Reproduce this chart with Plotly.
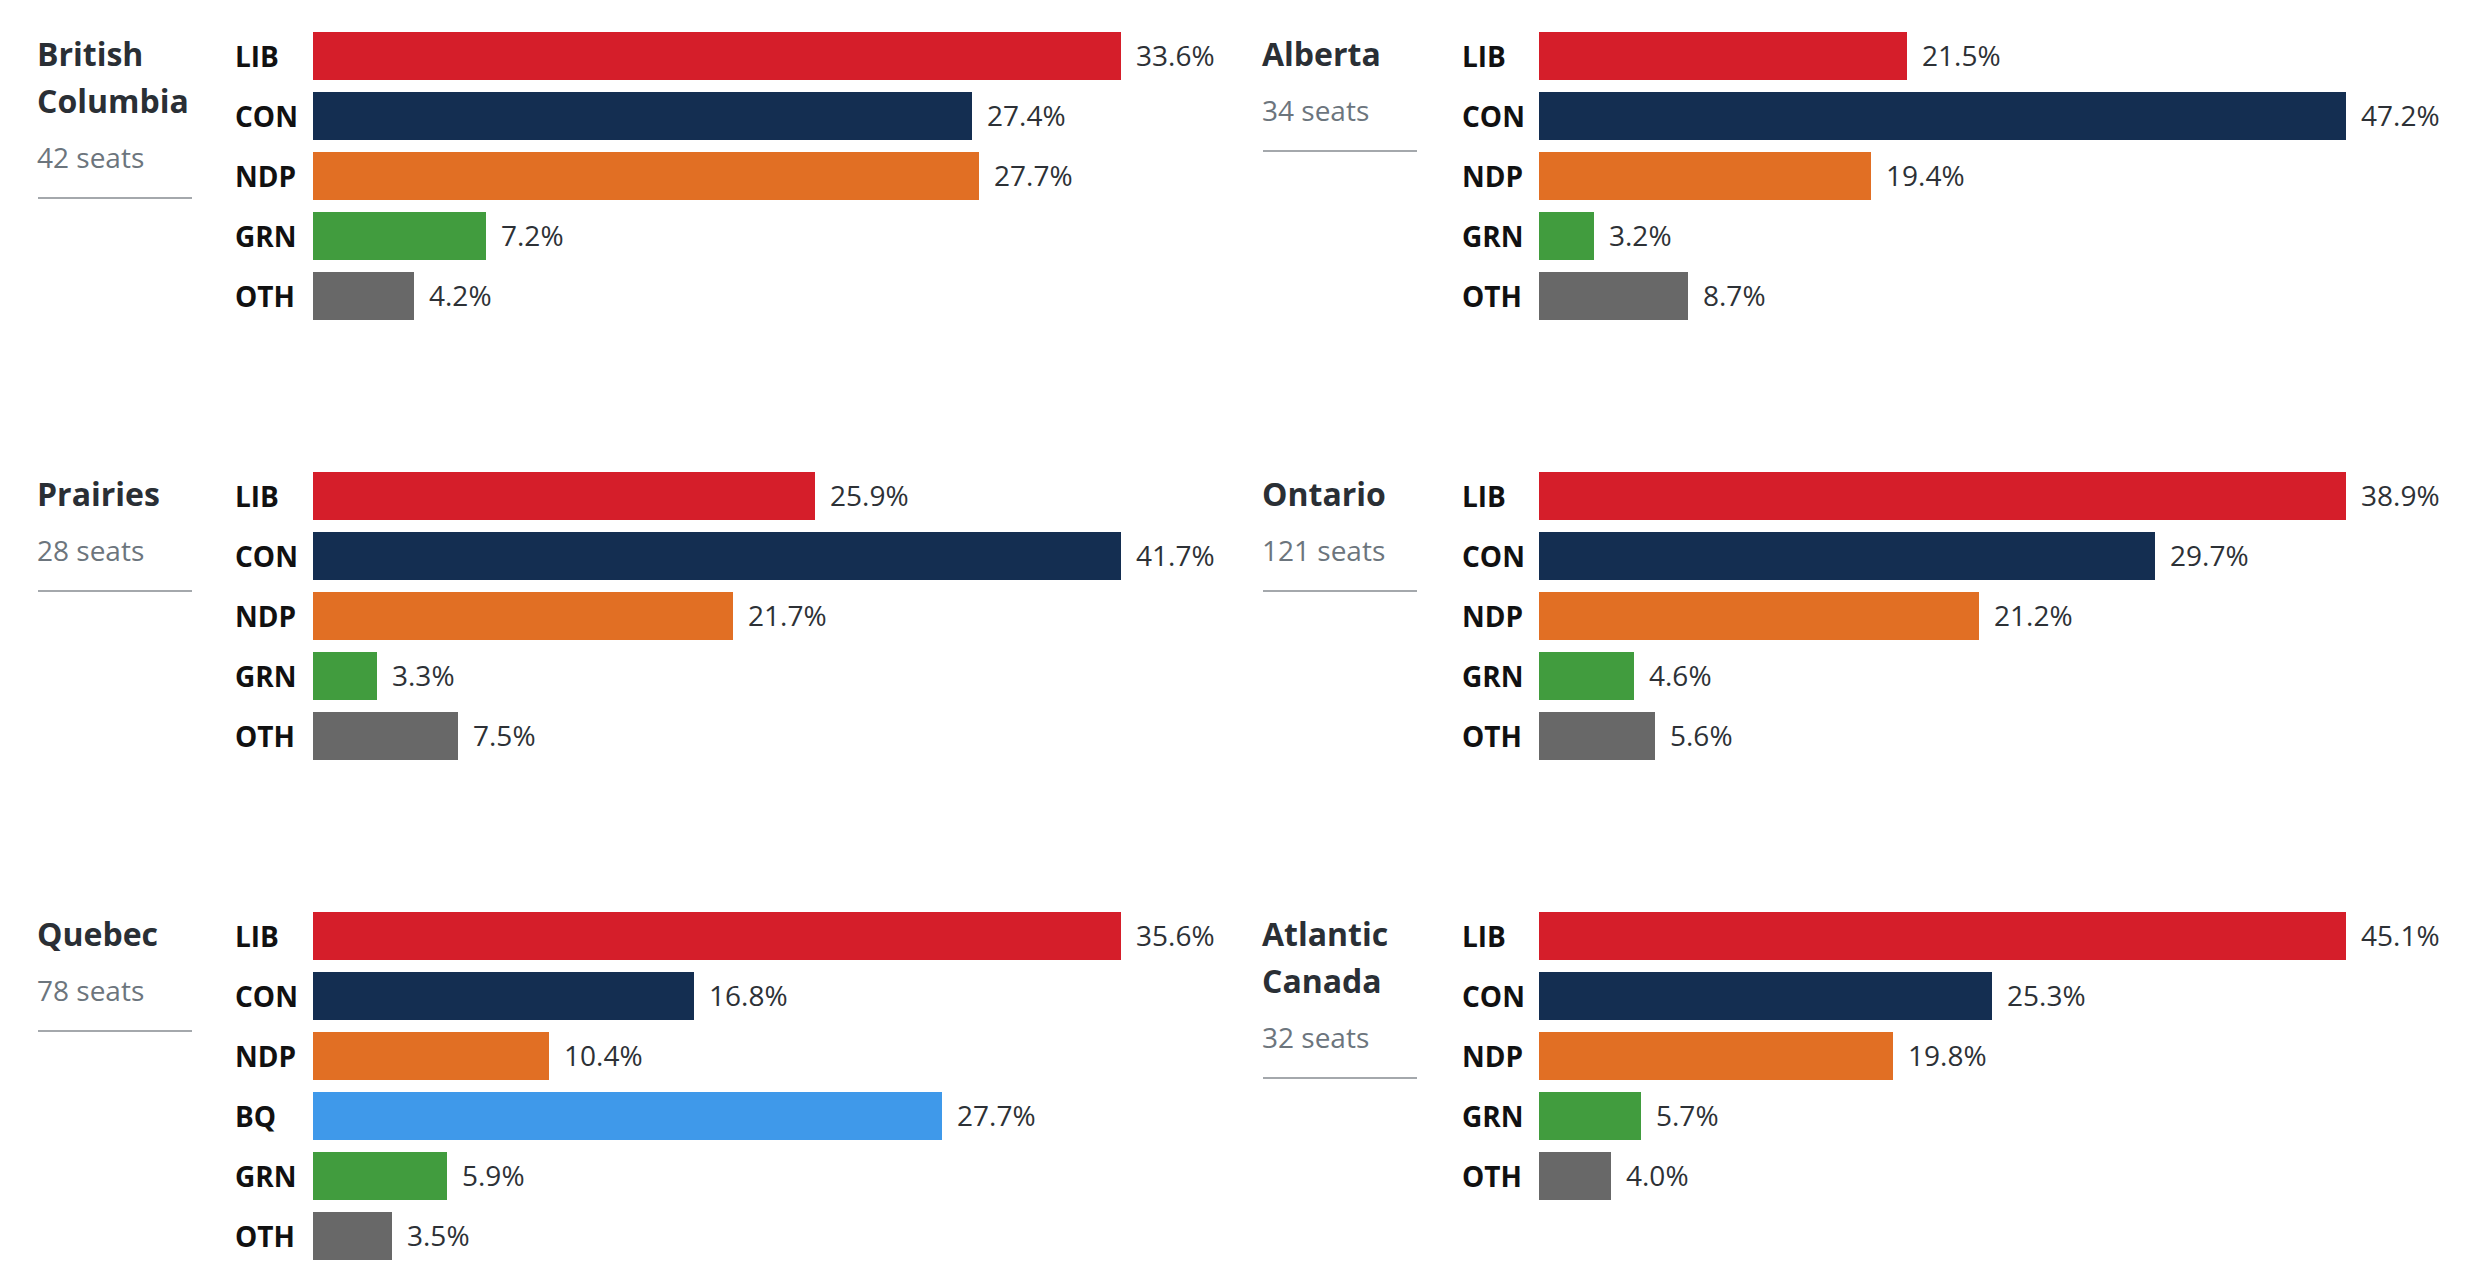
import plotly.graph_objects as go

# ---------------- data ----------------
title_lines = [["British", "Columbia"], ["Alberta"], ["Prairies"], ["Ontario"], ["Quebec"], ["Atlantic", "Canada"]]
seats = [42, 34, 28, 121, 78, 32]
parties_std = ["LIB", "CON", "NDP", "GRN", "OTH"]
parties_qc = ["LIB", "CON", "NDP", "BQ", "GRN", "OTH"]
bc_vals = [33.6, 27.4, 27.7, 7.2, 4.2]
ab_vals = [21.5, 47.2, 19.4, 3.2, 8.7]
pr_vals = [25.9, 41.7, 21.7, 3.3, 7.5]
on_vals = [38.9, 29.7, 21.2, 4.6, 5.6]
qc_vals = [35.6, 16.8, 10.4, 27.7, 5.9, 3.5]
at_vals = [45.1, 25.3, 19.8, 5.7, 4.0]

party_lists = [parties_std, parties_std, parties_std, parties_std, parties_qc, parties_std]
value_lists = [bc_vals, ab_vals, pr_vals, on_vals, qc_vals, at_vals]

colors = {"LIB": "#d51e2a", "CON": "#142e51", "NDP": "#e16f24",
          "BQ": "#3f99ea", "GRN": "#419c3e", "OTH": "#686868"}

# ---------------- layout (px) ----------------
W, H = 2482, 1284
cols = [
    dict(title_x=35, label_x=233, bar_x0=313, bar_x1=1121, line_x0=38, line_x1=192),
    dict(title_x=1260, label_x=1460, bar_x0=1539, bar_x1=2346, line_x0=1263, line_x1=1417),
]
row_off = [0, 440, 880]
bar_top = 32
pitch = 60
bar_w = 0.8

FONT = "Open Sans"
title_color = "#2a2f35"
seats_color = "#6c757d"
value_color = "#2d3136"
label_color = "#111111"

fig = go.Figure()
annotations = []
shapes = []
layout_axes = {}


def py(px):
    return 1 - px / H


for i, (parties, vals) in enumerate(zip(party_lists, value_lists)):
    row, col = divmod(i, 2)
    c = cols[col]
    off = row_off[row]
    k = i + 1
    xa = "x" if k == 1 else f"x{k}"
    ya = "y" if k == 1 else f"y{k}"
    n = len(parties)
    top = bar_top + off - (1 - bar_w) / 2 * pitch
    bottom = top + n * pitch

    fig.add_trace(go.Bar(
        x=vals, y=parties, orientation="h",
        marker=dict(color=[colors[p] for p in parties], line=dict(width=0)),
        width=bar_w, xaxis=xa, yaxis=ya, hoverinfo="skip", showlegend=False,
    ))
    layout_axes["xaxis" if k == 1 else f"xaxis{k}"] = dict(
        domain=[c["bar_x0"] / W, c["bar_x1"] / W], range=[0, max(vals)],
        visible=False, fixedrange=True, anchor=ya)
    layout_axes["yaxis" if k == 1 else f"yaxis{k}"] = dict(
        domain=[py(bottom), py(top)], type="category",
        categoryorder="array", categoryarray=parties,
        range=[n - 0.5, -0.5], visible=False, fixedrange=True, anchor=xa)

    for p, v in zip(parties, vals):
        annotations.append(dict(
            x=v, y=p, xref=xa, yref=ya, text=f"{v:.1f}%", showarrow=False,
            xanchor="left", yanchor="middle", xshift=13, yshift=1,
            font=dict(family=FONT, size=28, color=value_color)))
        annotations.append(dict(
            x=c["label_x"] / W, y=p, xref="paper", yref=ya, text=p, showarrow=False,
            xanchor="left", yanchor="middle",
            font=dict(family=FONT, size=28, color=label_color, weight=700)))

    # region title
    y_c = 53.5 + off
    for line in title_lines[i]:
        annotations.append(dict(
            x=c["title_x"] / W, y=py(y_c), xref="paper", yref="paper", text=line,
            showarrow=False, xanchor="left", yanchor="middle",
            font=dict(family=FONT, size=32, color=title_color, weight=700)))
        y_c += 47
    seats_c = y_c + 9.5
    annotations.append(dict(
        x=c["title_x"] / W, y=py(seats_c), xref="paper", yref="paper",
        text=f"{seats[i]} seats", showarrow=False, xanchor="left", yanchor="middle",
        font=dict(family=FONT, size=28, color=seats_color)))
    line_y = seats_c + 41
    shapes.append(dict(type="line", xref="paper", yref="paper",
                       x0=c["line_x0"] / W, x1=c["line_x1"] / W,
                       y0=py(line_y), y1=py(line_y),
                       line=dict(color="#a4a8ac", width=2)))

fig.update_layout(
    width=W, height=H, margin=dict(l=0, r=0, t=0, b=0),
    paper_bgcolor="white", plot_bgcolor="white",
    annotations=annotations, shapes=shapes, bargap=0,
    **layout_axes,
)

fig.write_html("out.html", config={"displayModeBar": False},
               post_script="document.body.style.margin='0';document.body.style.overflow='hidden';")
